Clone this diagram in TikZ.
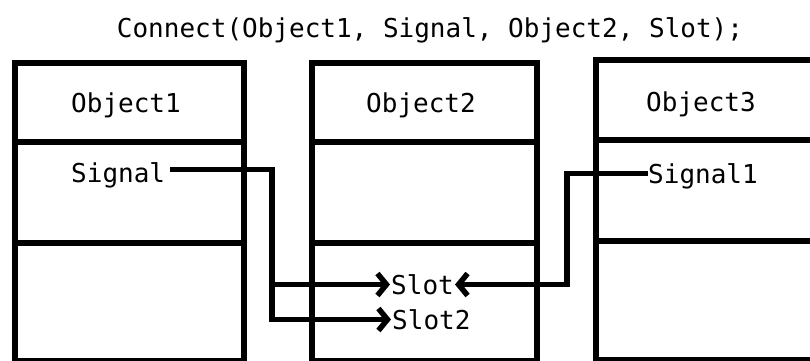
\documentclass[tikz,border=0pt]{standalone}
\usepackage{fontspec}
\setmonofont{DejaVu Sans Mono}
\usetikzlibrary{arrows.meta}
\begin{document}
\begin{tikzpicture}[x=1pt,y=-1pt,
  frame/.style={draw=black, line width=5.5pt, inner sep=0pt, anchor=north west},
  divider/.style={draw=black, line width=5.5pt},
  lbl/.style={font=\ttfamily\fontsize{26}{30}\selectfont, text=black,
    inner sep=0pt, text height=19pt, text depth=0pt, anchor=base west},
  wire/.style={draw=black, line width=5.5pt},
  barb/.style={-{Straight Barb[length=9pt,width=22pt]}}]
\useasboundingbox (0,0) rectangle (810,360);

% call shown above the objects
\node[lbl, anchor=base] (title) at (430,37) {Connect(Object1, Signal, Object2, Slot);};

% the three objects, each split into three compartments
\node[frame, minimum width=229pt, minimum height=298pt] (obj1) at (12,60) {};
\node[frame, minimum width=225pt, minimum height=298pt] (obj2) at (309,60) {};
\node[frame, minimum width=240pt, minimum height=300pt] (obj3) at (593,57) {};

\draw[divider] (obj1.west |- 0,142) -- (obj1.east |- 0,142);
\draw[divider] (obj1.west |- 0,243) -- (obj1.east |- 0,243);
\draw[divider] (obj2.west |- 0,142) -- (obj2.east |- 0,142);
\draw[divider] (obj2.west |- 0,243) -- (obj2.east |- 0,243);
\draw[divider] (obj3.west |- 0,140) -- (obj3.east |- 0,140);
\draw[divider] (obj3.west |- 0,241) -- (obj3.east |- 0,241);

% object names
\node[lbl, anchor=base] (name1) at (126,112) {Object1};
\node[lbl, anchor=base] (name2) at (421,112) {Object2};
\node[lbl, anchor=base] (name3) at (701,111) {Object3};

% signals and slots
\node[lbl] (sig)   at (71,182)  {Signal};
\node[lbl] (sig1)  at (648,183) {Signal1};
\node[lbl] (slot)  at (391,294) {Slot};
\node[lbl] (slot2) at (392,329) {Slot2};

% routing columns between the objects
\coordinate (lane1) at (272,0);
\coordinate (lane2) at (567,0);

% Signal -> Slot and Slot2
\draw[wire, barb] ([xshift=5pt,yshift=3pt]sig.east) -| (lane1 |- slot2.west)
  -- ([xshift=-1pt]slot2.west);
\draw[wire, barb] (lane1 |- slot.west) -- ([xshift=-1pt]slot.west);

% Signal1 -> Slot
\draw[wire, barb] (sig1.west) -| (lane2 |- slot.east) -- ([xshift=1pt]slot.east);
\end{tikzpicture}
\end{document}
